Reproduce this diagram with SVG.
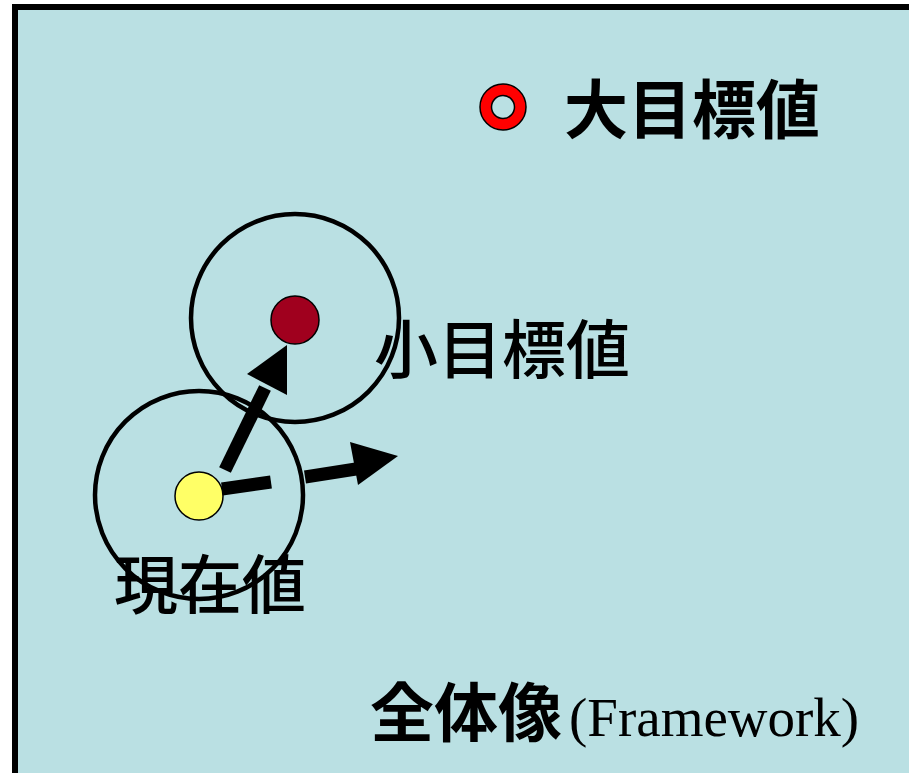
<svg xmlns="http://www.w3.org/2000/svg" width="909" height="773" viewBox="0 0 909 773">
<style>
.cjk{font-family:"Noto Sans CJK JP","Noto Sans CJK SC",sans-serif;font-size:64px;fill:#000;font-weight:500}
.b{font-weight:bold}
.ring{fill:none;stroke:#000;stroke-width:4.5}
.shaft{stroke:#000;stroke-width:13;fill:none}
.head{fill:#000}
</style>
<rect x="15" y="7" width="900" height="790" fill="#BAE0E3" stroke="#000" stroke-width="6"/>
<g id="legend">
<circle cx="503" cy="107" r="23" fill="#FF0000" stroke="#000" stroke-width="1.5"/>
<circle cx="503" cy="107" r="11.5" fill="#BAE0E3" stroke="#000" stroke-width="1.5"/>
<text class="cjk b" x="564" y="133">大目標値</text>
</g>
<g id="subgoal">
<circle class="ring" cx="295" cy="318" r="104"/>
<circle cx="295" cy="320" r="24" fill="#A0001E" stroke="#000" stroke-width="1.5"/>
<text class="cjk" x="374" y="373">小目標値</text>
</g>
<g id="current">
<circle class="ring" cx="199" cy="495" r="104"/>
<circle cx="199" cy="496" r="24" fill="#FFFF66" stroke="#000" stroke-width="1.5"/>
<text class="cjk" x="114" y="608">現在値</text>
</g>
<g id="connectors">
<line class="shaft" x1="225" y1="470" x2="265" y2="388"/>
<polygon class="head" points="287,345 247,374 287,395"/>
<line class="shaft" x1="222" y1="489" x2="271" y2="482"/>
<line class="shaft" x1="305" y1="477" x2="356" y2="469"/>
<polygon class="head" points="350,442 398,456 358,485"/>
</g>
<g id="framework">
<text class="cjk b" x="370" y="736">全体像</text>
<text x="569" y="736" font-family="'Liberation Serif',serif" font-size="55">(Framework)</text>
</g>
</svg>
